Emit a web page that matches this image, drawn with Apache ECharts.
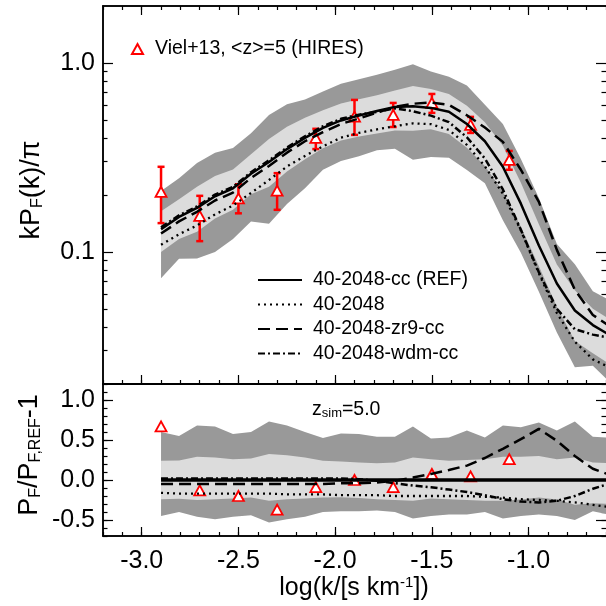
<!DOCTYPE html>
<html>
<head>
<meta charset="utf-8">
<script src="https://cdn.jsdelivr.net/npm/echarts@6/dist/echarts.min.js"></script>
<style>
html,body{margin:0;padding:0;background:#fff;}
#chart{width:606px;height:606px;}
</style>
</head>
<body>
<div id="chart"></div>
<script>
// simulation k grid, log(k/[s/km])
var logk = [-2.900,-2.807,-2.714,-2.621,-2.528,-2.435,-2.342,-2.249,-2.156,-2.063,-1.970,-1.877,-1.784,
            -1.691,-1.598,-1.505,-1.412,-1.319,-1.226,-1.133,-1.040,-0.947,-0.854,-0.761,-0.668,-0.575];

// top panel: kP_F(k)/pi
var pRef  = [0.132,0.153,0.171,0.197,0.217,0.259,0.299,0.350,0.401,0.453,0.496,0.527,0.557,
             0.585,0.590,0.578,0.552,0.475,0.385,0.282,0.180,0.108,0.068,0.049,0.041,0.036];
var p2048 = [0.109,0.124,0.138,0.158,0.176,0.205,0.240,0.283,0.322,0.362,0.402,0.426,0.445,
             0.462,0.479,0.474,0.442,0.368,0.284,0.203,0.130,0.0770,0.0475,0.0335,0.0270,0.0243];
var pZr9  = [0.125,0.145,0.163,0.187,0.206,0.246,0.285,0.335,0.385,0.430,0.475,0.508,0.545,
             0.585,0.608,0.617,0.600,0.528,0.455,0.382,0.272,0.184,0.1025,0.063,0.0464,0.040];
var pWdm  = [0.135,0.156,0.174,0.201,0.221,0.264,0.305,0.357,0.409,0.462,0.506,0.532,0.551,
             0.575,0.555,0.526,0.486,0.404,0.312,0.214,0.131,0.078,0.050,0.039,0.0365,0.035];
var darkHi  = [0.21,0.245,0.295,0.335,0.355,0.425,0.53,0.605,0.64,0.705,0.775,0.82,0.865,
               0.92,0.985,0.90,0.845,0.76,0.60,0.475,0.31,0.193,0.11,0.086,0.062,0.055];
var lightHi = [0.164,0.190,0.221,0.252,0.273,0.329,0.396,0.459,0.513,0.562,0.610,0.643,0.674,
               0.714,0.755,0.728,0.684,0.594,0.485,0.364,0.232,0.140,0.0857,0.0627,0.050,0.0436];
var lightLo = [0.100,0.117,0.128,0.150,0.167,0.202,0.221,0.266,0.309,0.353,0.389,0.408,0.423,
               0.439,0.437,0.445,0.420,0.356,0.285,0.209,0.136,0.084,0.0513,0.0338,0.0291,0.0252];
var darkLo  = [0.0726,0.092,0.0923,0.100,0.117,0.145,0.141,0.179,0.217,0.272,0.303,0.321,0.345,
               0.351,0.307,0.318,0.315,0.271,0.231,0.147,0.099,0.0616,0.0374,0.0245,0.025,0.0202];

// bottom panel: P_F/P_F,REF - 1
var rRef  = [0,0,0,0,0,0,0,0,0,0,0,0,0,0,0,0,0,0,0,0,0,0,0,0,0,0];
var r2048 = [-0.16,-0.17,-0.17,-0.17,-0.17,-0.17,-0.17,-0.18,-0.18,-0.18,-0.19,-0.19,-0.19,
             -0.20,-0.20,-0.20,-0.20,-0.20,-0.21,-0.22,-0.24,-0.25,-0.26,-0.28,-0.31,-0.34];
var rZr9  = [-0.05,-0.05,-0.05,-0.05,-0.05,-0.05,-0.05,-0.05,-0.05,-0.05,-0.04,-0.04,-0.03,
             -0.01,0.03,0.075,0.125,0.18,0.275,0.39,0.51,0.64,0.49,0.30,0.14,0.06];
var rWdm  = [0.02,0.02,0.02,0.02,0.02,0.02,0.02,0.02,0.02,0.02,0.02,0.01,-0.01,
             -0.04,-0.07,-0.09,-0.12,-0.15,-0.19,-0.24,-0.27,-0.28,-0.26,-0.20,-0.11,-0.04];
var rDarkHi  = [0.60,0.55,0.68,0.67,0.575,0.60,0.73,0.68,0.60,0.525,0.58,0.575,0.54,
                0.54,0.67,0.52,0.53,0.62,0.53,0.68,0.66,0.72,0.62,0.73,0.54,0.53];
var rLightHi = [0.24,0.245,0.29,0.28,0.26,0.27,0.325,0.31,0.28,0.24,0.23,0.22,0.21,
                0.22,0.28,0.26,0.24,0.25,0.26,0.29,0.29,0.30,0.26,0.28,0.22,0.21];
var rLightLo = [-0.24,-0.235,-0.25,-0.24,-0.23,-0.22,-0.26,-0.24,-0.23,-0.22,-0.215,-0.225,-0.24,
                -0.25,-0.26,-0.23,-0.24,-0.25,-0.26,-0.26,-0.245,-0.22,-0.245,-0.31,-0.29,-0.30];
var rDarkLo  = [-0.45,-0.40,-0.46,-0.49,-0.46,-0.44,-0.53,-0.49,-0.46,-0.40,-0.39,-0.39,-0.38,
                -0.40,-0.48,-0.45,-0.43,-0.43,-0.40,-0.48,-0.45,-0.43,-0.45,-0.50,-0.39,-0.44];

// Viel+13 HIRES points
var vielK  = [-2.9,-2.7,-2.5,-2.3,-2.1,-1.9,-1.7,-1.5,-1.3,-1.1];
var vielP  = [0.208,0.155,0.192,0.211,0.401,0.519,0.531,0.614,0.470,0.307];
var vielLo = [0.142,0.114,0.160,0.167,0.350,0.416,0.458,0.544,0.426,0.272];
var vielHi = [0.282,0.198,0.228,0.261,0.448,0.637,0.614,0.685,0.518,0.342];
var vielR  = [0.67,-0.13,-0.20,-0.37,-0.09,0.00,-0.09,0.075,0.045,0.26];

// ticks
var xMajor = [-3.0,-2.5,-2.0,-1.5,-1.0];
var yTopMajor = [0.1,1.0];
var yTopMinor = [0.03,0.04,0.05,0.06,0.07,0.08,0.09,0.2,0.3,0.4,0.5,0.6,0.7,0.8,0.9];
var yBotMajor = [-0.5,0.0,0.5,1.0];

var VIEL = 'Viel+13, <z>=5 (HIRES)';
var NAMES = ['40-2048-cc (REF)','40-2048','40-2048-zr9-cc','40-2048-wdm-cc'];
var FONT = '"Liberation Sans", Arial, sans-serif';

function pairs(xs, ys) {
  return xs.map(function (x, i) { return [x, ys[i]]; });
}

function xAx(grid, pos, minor, labels, ticks) {
  var a = {
    type: 'value', gridIndex: grid, position: pos, min: -3.2, max: -0.6,
    axisLine: { show: true, onZero: false, lineStyle: { color: '#000', width: 1.5 } },
    axisTick: { show: ticks !== false, inside: true, length: minor ? 4 : 9, lineStyle: { color: '#000', width: 1.2 } },
    axisLabel: { show: false },
    splitLine: { show: false }
  };
  if (minor) a.interval = 0.1;
  else a.axisTick.customValues = xMajor;
  if (labels) {
    a.axisLabel = { show: true, customValues: xMajor, margin: 13, fontSize: 25, color: '#000', fontFamily: FONT,
      formatter: function (v) { return v.toFixed(1); } };
  }
  return a;
}

function yTop(pos, minor, labels) {
  var a = {
    type: 'log', logBase: 10, gridIndex: 0, position: pos, min: 0.02, max: 2.0,
    axisLine: { show: pos === 'left', onZero: false, lineStyle: { color: '#000', width: 1.5 } },
    axisTick: { show: true, inside: true, length: minor ? 4.5 : 10, customValues: minor ? yTopMinor : yTopMajor,
      lineStyle: { color: '#000', width: 1.2 } },
    axisLabel: { show: false },
    splitLine: { show: false }
  };
  if (labels) {
    a.axisLabel = { show: true, customValues: yTopMajor, margin: 8, fontSize: 25, color: '#000', fontFamily: FONT,
      formatter: function (v) { return v.toFixed(1); } };
  }
  return a;
}

function yBot(pos, minor, labels) {
  var a = {
    type: 'value', gridIndex: 1, position: pos, min: -0.7, max: 1.2,
    axisLine: { show: pos === 'left', onZero: false, lineStyle: { color: '#000', width: 1.5 } },
    axisTick: { show: true, inside: true, length: minor ? 4.5 : 10, lineStyle: { color: '#000', width: 1.2 } },
    axisLabel: { show: false },
    splitLine: { show: false }
  };
  if (minor) a.interval = 0.1;
  else a.axisTick.customValues = yBotMajor;
  if (labels) {
    a.axisLabel = { show: true, customValues: yBotMajor, margin: 8, fontSize: 25, color: '#000', fontFamily: FONT,
      formatter: function (v) { return v.toFixed(1); } };
  }
  return a;
}

function band(xi, yi, hi, lo, color) {
  return {
    type: 'custom', xAxisIndex: xi, yAxisIndex: yi, silent: true,
    data: [[logk[0], hi[0]]],
    renderItem: function (params, api) {
      var pts = [], i;
      for (i = 0; i < logk.length; i++) pts.push(api.coord([logk[i], hi[i]]));
      for (i = logk.length - 1; i >= 0; i--) pts.push(api.coord([logk[i], lo[i]]));
      var cs = params.coordSys;
      return {
        type: 'polygon', shape: { points: pts }, style: { fill: color },
        clipPath: { type: 'rect', shape: { x: cs.x, y: cs.y, width: cs.width, height: cs.height } }
      };
    }
  };
}

function line(name, xi, yi, ys, type, width) {
  return {
    type: 'line', name: name, xAxisIndex: xi, yAxisIndex: yi, data: pairs(logk, ys),
    symbol: 'none', clip: true, silent: true,
    itemStyle: { color: 'rgba(0,0,0,0)', borderColor: 'rgba(0,0,0,0)', borderWidth: 0 },
    lineStyle: { color: '#000', width: width, type: type }
  };
}

var chart = echarts.init(document.getElementById('chart'));
chart.setOption({
  animation: false,
  backgroundColor: '#fff',
  grid: [
    { left: 103, top: 6, width: 503, height: 378 },
    { left: 103, top: 384, width: 503, height: 152 }
  ],
  xAxis: [
    xAx(0, 'bottom', false, false), xAx(0, 'bottom', true, false),
    xAx(0, 'top', false, false), xAx(0, 'top', true, false),
    xAx(1, 'bottom', false, true), xAx(1, 'bottom', true, false),
    xAx(1, 'top', false, false, false), xAx(1, 'top', true, false, false)
  ],
  yAxis: [
    yTop('left', false, true), yTop('left', true, false),
    yTop('right', false, false), yTop('right', true, false),
    yBot('left', false, true), yBot('left', true, false),
    yBot('right', false, false), yBot('right', true, false)
  ],
  legend: [
    { data: [{ name: VIEL, icon: 'triangle' }], left: 131, top: 39, padding: 0, itemWidth: 11, itemHeight: 10,
      selectedMode: false, textStyle: { fontSize: 19.5, color: '#000', fontFamily: FONT, padding: [0, 0, 0, 7] } },
    { data: NAMES, orient: 'vertical', left: 257, top: 270, padding: 0, itemWidth: 44, itemHeight: 14, itemGap: 4.5,
      selectedMode: false, textStyle: { fontSize: 19.5, color: '#000', fontFamily: FONT, padding: [0, 0, 0, 6] } }
  ],
  graphic: [
    { type: 'text', x: 32, y: 190, rotation: Math.PI / 2,
      style: { text: '{n|kP}{s|F}{n|(k)/π}', align: 'center', verticalAlign: 'middle', textAlign: 'center', textVerticalAlign: 'middle',
        rich: { n: { fontSize: 27, fontFamily: FONT, fill: '#000' }, s: { fontSize: 16, fontFamily: FONT, fill: '#000', verticalAlign: 'bottom' } } } },
    { type: 'text', x: 30, y: 455, rotation: Math.PI / 2,
      style: { text: '{n|P}{s|F}{n|/P}{s|F,REF}{n|-1}', align: 'center', verticalAlign: 'middle', textAlign: 'center', textVerticalAlign: 'middle',
        rich: { n: { fontSize: 27, fontFamily: FONT, fill: '#000' }, s: { fontSize: 16, fontFamily: FONT, fill: '#000', verticalAlign: 'bottom' } } } },
    { type: 'text', x: 354, y: 588,
      style: { text: '{n|log(k/[s km}{p|-1}{n|])}', align: 'center', verticalAlign: 'middle', textAlign: 'center', textVerticalAlign: 'middle',
        rich: { n: { fontSize: 25, fontFamily: FONT, fill: '#000' }, p: { fontSize: 15, fontFamily: FONT, fill: '#000', verticalAlign: 'top' } } } },
    { type: 'text', x: 312, y: 410,
      style: { text: '{n|z}{s|sim}{n|=5.0}', align: 'left', verticalAlign: 'middle', textAlign: 'left', textVerticalAlign: 'middle',
        rich: { n: { fontSize: 19.5, fontFamily: FONT, fill: '#000' }, s: { fontSize: 13, fontFamily: FONT, fill: '#000', verticalAlign: 'bottom' } } } }
  ],
  series: [
    band(0, 0, darkHi, darkLo, '#999999'),
    band(0, 0, lightHi, lightLo, '#dcdcdc'),
    line(NAMES[1], 0, 0, p2048, [2, 4], 2.3),
    line(NAMES[3], 0, 0, pWdm, [7, 3, 2, 3], 2.5),
    line(NAMES[2], 0, 0, pZr9, [12, 6], 2.5),
    line(NAMES[0], 0, 0, pRef, 'solid', 2.5),
    {
      type: 'custom', name: 'vielErr', xAxisIndex: 0, yAxisIndex: 0, silent: true,
      data: vielK.map(function (k, i) { return [k, vielLo[i], vielHi[i]]; }),
      encode: { x: 0, y: [1, 2] },
      renderItem: function (params, api) {
        var lo = api.coord([api.value(0), api.value(1)]);
        var hi = api.coord([api.value(0), api.value(2)]);
        var st = { stroke: '#ff0000', lineWidth: 2.5 };
        return { type: 'group', children: [
          { type: 'line', shape: { x1: lo[0], y1: lo[1], x2: hi[0], y2: hi[1] }, style: st },
          { type: 'line', shape: { x1: lo[0] - 3.5, y1: lo[1], x2: lo[0] + 3.5, y2: lo[1] }, style: st },
          { type: 'line', shape: { x1: hi[0] - 3.5, y1: hi[1], x2: hi[0] + 3.5, y2: hi[1] }, style: st }
        ] };
      }
    },
    {
      type: 'scatter', name: VIEL, xAxisIndex: 0, yAxisIndex: 0, silent: true,
      data: pairs(vielK, vielP), symbol: 'triangle', symbolSize: [11, 10],
      itemStyle: { color: '#fff', borderColor: '#ff0000', borderWidth: 1.8, opacity: 1 }
    },

    band(4, 4, rDarkHi, rDarkLo, '#999999'),
    band(4, 4, rLightHi, rLightLo, '#dcdcdc'),
    line('r2048', 4, 4, r2048, [2, 4], 2.3),
    line('rWdm', 4, 4, rWdm, [7, 3, 2, 3], 2.5),
    line('rZr9', 4, 4, rZr9, [12, 6], 2.5),
    line('rRef', 4, 4, rRef, 'solid', 3.5),
    {
      type: 'scatter', name: 'rViel', xAxisIndex: 4, yAxisIndex: 4, silent: true,
      data: pairs(vielK, vielR), symbol: 'triangle', symbolSize: [11, 10],
      itemStyle: { color: '#fff', borderColor: '#ff0000', borderWidth: 1.8, opacity: 1 }
    }
  ]
});
</script>
</body>
</html>
